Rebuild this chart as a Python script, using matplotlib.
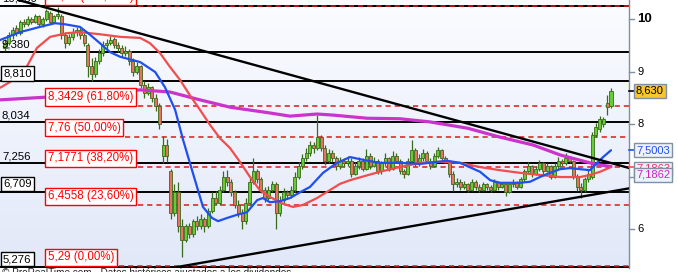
import numpy as np
import matplotlib
matplotlib.use("Agg")
import matplotlib.pyplot as plt
from matplotlib.colors import LinearSegmentedColormap
import matplotlib.transforms as mtransforms

plt.rcParams['font.family'] = ['Liberation Sans', 'DejaVu Sans']

# ---------------- data ----------------
opens = [9.45, 9.55, 9.70, 9.82, 9.74, 9.95, 9.90, 10.00, 9.95, 10.05,
         9.90, 10.00, 10.12, 9.95, 10.05, 10.05, 9.70, 9.55, 9.65, 9.75,
         9.80, 9.70, 9.50, 9.10, 8.95, 9.20, 9.35, 9.50, 9.55, 9.62,
         9.50, 9.45, 9.35, 9.40, 9.20, 9.00, 9.10, 8.75, 8.60, 8.70,
         8.50, 8.35, 7.40, 7.60, 7.10, 6.30, 6.70, 6.05, 5.80, 6.05,
         5.90, 6.15, 6.05, 6.20, 6.05, 6.35, 6.60, 6.50, 6.75, 7.00,
         6.90, 6.70, 6.45, 6.30, 6.15, 6.50, 6.90, 7.10, 6.95, 6.75,
         6.60, 6.75, 6.85, 6.30, 6.55, 6.70, 6.65, 6.75, 7.00, 7.20,
         7.35, 7.45, 7.60, 7.55, 7.75, 7.55, 7.30, 7.45, 7.35, 7.20,
         7.30, 7.25, 7.30, 7.05, 7.20, 7.30, 7.15, 7.40, 7.20, 7.30,
         7.10, 7.25, 7.35, 7.15, 7.40, 7.30, 7.10, 7.05, 7.30, 7.50,
         7.25, 7.35, 7.45, 7.30, 7.20, 7.40, 7.50, 7.35, 7.30, 7.05,
         6.85, 6.90, 6.80, 6.85, 6.75, 6.90, 6.80, 6.75, 6.85, 6.80,
         6.75, 6.90, 6.80, 6.85, 6.70, 6.85, 6.90, 6.80, 6.95, 7.10,
         7.20, 7.05, 7.15, 7.25, 7.10, 7.20, 7.00, 7.20, 7.30, 7.25,
         7.35, 7.30, 7.00, 6.80, 6.75, 6.95, 7.00, 7.80, 7.90, 8.00,
         8.40, 8.35]
highs = [9.62, 9.75, 9.85, 9.88, 9.98, 10.00, 10.05, 10.04, 10.10, 10.08,
         10.03, 10.20, 10.16, 10.08, 10.22, 10.10, 9.75, 9.72, 9.82, 9.85,
         9.83, 9.74, 9.55, 9.25, 9.28, 9.42, 9.58, 9.62, 9.68, 9.65,
         9.56, 9.50, 9.48, 9.42, 9.25, 9.18, 9.12, 8.82, 8.78, 8.72,
         8.58, 8.40, 7.78, 7.72, 7.15, 6.85, 6.90, 6.20, 6.10, 6.12,
         6.20, 6.25, 6.28, 6.22, 6.40, 6.70, 6.72, 6.82, 7.10, 7.12,
         6.95, 6.75, 6.55, 6.38, 6.60, 6.98, 7.35, 7.15, 7.00, 6.80,
         6.82, 6.92, 6.90, 6.62, 6.78, 6.75, 6.82, 7.08, 7.28, 7.42,
         7.55, 7.68, 7.65, 8.17, 7.80, 7.60, 7.52, 7.50, 7.40, 7.38,
         7.35, 7.40, 7.35, 7.28, 7.38, 7.35, 7.52, 7.45, 7.38, 7.34,
         7.30, 7.45, 7.38, 7.48, 7.44, 7.34, 7.15, 7.35, 7.70, 7.55,
         7.42, 7.52, 7.48, 7.35, 7.45, 7.56, 7.52, 7.40, 7.32, 7.10,
         6.98, 6.95, 6.92, 6.88, 6.95, 6.93, 6.85, 6.90, 6.88, 6.83,
         6.95, 6.92, 6.90, 6.88, 6.88, 6.95, 6.92, 7.00, 7.15, 7.28,
         7.22, 7.20, 7.32, 7.28, 7.25, 7.22, 7.25, 7.38, 7.34, 7.45,
         7.40, 7.32, 7.05, 6.88, 7.00, 7.12, 7.85, 8.02, 8.15, 8.14,
         8.55, 8.69]
lows = [9.40, 9.50, 9.62, 9.68, 9.70, 9.85, 9.86, 9.90, 9.92, 9.86,
        9.85, 9.96, 9.90, 9.92, 10.00, 9.62, 9.45, 9.50, 9.60, 9.68,
        9.62, 9.48, 8.90, 8.82, 8.90, 9.15, 9.30, 9.42, 9.50, 9.45,
        9.38, 9.28, 9.30, 9.12, 8.92, 8.95, 8.68, 8.50, 8.55, 8.42,
        8.25, 7.90, 7.25, 7.28, 6.20, 6.25, 5.95, 5.47, 5.75, 5.82,
        5.85, 5.98, 6.00, 5.95, 6.02, 6.30, 6.45, 6.45, 6.70, 6.82,
        6.62, 6.40, 6.22, 6.00, 6.10, 6.45, 6.85, 6.88, 6.68, 6.52,
        6.55, 6.70, 6.00, 6.25, 6.50, 6.58, 6.60, 6.70, 6.95, 7.15,
        7.30, 7.40, 7.45, 7.50, 7.48, 7.22, 7.25, 7.28, 7.12, 7.15,
        7.18, 7.20, 7.00, 7.02, 7.15, 7.10, 7.12, 7.15, 7.18, 7.05,
        7.05, 7.20, 7.10, 7.12, 7.25, 7.05, 6.98, 7.02, 7.25, 7.20,
        7.20, 7.30, 7.25, 7.15, 7.18, 7.35, 7.30, 7.25, 7.00, 6.72,
        6.80, 6.75, 6.76, 6.70, 6.72, 6.75, 6.70, 6.72, 6.75, 6.70,
        6.72, 6.75, 6.78, 6.62, 6.68, 6.80, 6.76, 6.78, 6.90, 7.05,
        7.00, 7.02, 7.10, 7.05, 7.08, 6.95, 6.98, 7.15, 7.20, 7.22,
        7.25, 6.95, 6.72, 6.60, 6.70, 6.90, 6.95, 7.75, 7.85, 7.94,
        8.17, 8.30]
closes = [9.55, 9.70, 9.80, 9.74, 9.95, 9.90, 10.00, 9.95, 10.05, 9.90,
          10.00, 10.15, 9.95, 10.05, 10.10, 9.70, 9.55, 9.65, 9.75, 9.80,
          9.70, 9.55, 9.10, 8.95, 9.20, 9.35, 9.50, 9.55, 9.60, 9.50,
          9.45, 9.35, 9.40, 9.20, 9.00, 9.10, 8.75, 8.60, 8.70, 8.50,
          8.35, 8.00, 7.60, 7.40, 6.30, 6.70, 6.05, 5.80, 6.05, 5.90,
          6.15, 6.05, 6.20, 6.05, 6.35, 6.60, 6.50, 6.75, 7.00, 6.90,
          6.70, 6.45, 6.30, 6.15, 6.50, 6.90, 7.10, 6.95, 6.75, 6.60,
          6.75, 6.85, 6.30, 6.55, 6.70, 6.65, 6.75, 7.00, 7.20, 7.35,
          7.45, 7.60, 7.55, 7.75, 7.55, 7.30, 7.45, 7.35, 7.20, 7.30,
          7.25, 7.30, 7.05, 7.20, 7.30, 7.15, 7.40, 7.20, 7.30, 7.10,
          7.25, 7.35, 7.15, 7.40, 7.30, 7.10, 7.05, 7.30, 7.50, 7.25,
          7.35, 7.45, 7.30, 7.20, 7.40, 7.50, 7.35, 7.30, 7.05, 6.85,
          6.90, 6.80, 6.85, 6.75, 6.90, 6.80, 6.75, 6.85, 6.80, 6.75,
          6.90, 6.80, 6.85, 6.70, 6.85, 6.90, 6.80, 6.95, 7.10, 7.20,
          7.05, 7.15, 7.25, 7.10, 7.20, 7.00, 7.20, 7.30, 7.25, 7.35,
          7.30, 7.00, 6.80, 6.75, 6.95, 7.05, 7.80, 7.95, 8.10, 8.10,
          8.32, 8.63]

# moving averages (bar index, value)
blue_x = [-1.3, 4.0, 9.3, 13.3, 15.9, 19.9, 22.6, 25.2, 27.9, 30.6, 35.9, 39.9, 42.5,
          45.2, 47.3, 49.9, 52.6, 55.0, 56.6, 59.0, 61.6, 64.3, 67.0, 68.5, 70.4,
          73.1, 75.7, 78.4, 81.0, 84.5, 88.2, 91.7, 95.6, 99.6, 104.9, 110.3, 117.4,
          120.9, 126.2, 128.9, 131.5, 136.8, 139.5, 142.1, 144.8, 147.5, 150.1,
          152.8, 155.4, 157.3, 158.9, 161.0]
blue_v = [9.60, 9.75, 9.85, 9.92, 9.90, 9.85, 9.70, 9.54, 9.37, 9.28, 9.18, 8.99, 8.70,
          8.27, 7.70, 7.07, 6.42, 6.21, 6.15, 6.21, 6.27, 6.32, 6.55, 6.59, 6.51,
          6.53, 6.59, 6.70, 6.80, 7.07, 7.26, 7.37, 7.31, 7.26, 7.26, 7.24, 7.30,
          7.26, 7.09, 6.93, 6.88, 6.88, 6.90, 6.99, 7.07, 7.14, 7.16,
          7.14, 7.12, 7.26, 7.37, 7.50]
red_x = [-1.3, 1.3, 5.3, 8.5, 12.0, 16.5, 19.9, 25.2, 30.6, 35.9, 38.5, 41.2, 43.8,
         46.5, 49.1, 51.8, 54.5, 57.1, 59.8, 62.4, 65.1, 67.7, 70.4, 73.9, 76.5,
         79.2, 82.9, 86.3, 89.0, 91.7, 95.6, 99.6, 104.9, 110.3, 115.6, 120.9,
         126.2, 131.5, 136.8, 142.1, 147.5, 152.8, 155.4, 158.1, 161.0]
red_v = [8.69, 8.80, 9.03, 9.45, 9.66, 9.73, 9.75, 9.71, 9.66, 9.64, 9.54, 9.35, 9.09,
         8.84, 8.55, 8.27, 7.98, 7.73, 7.54, 7.28, 6.99, 6.74, 6.61, 6.48, 6.42,
         6.46, 6.59, 6.74, 6.86, 6.93, 7.01, 7.09, 7.18, 7.26, 7.28, 7.26,
         7.18, 7.12, 7.07, 7.03, 6.99, 6.99, 7.03, 7.09, 7.18]
mag_x = [-1.3, 10.6, 25.2, 35.9, 43.8, 51.8, 59.8, 70.4, 75.7, 82.9, 87.1, 96.2,
         104.9, 112.9, 122.9, 131.5, 140.3, 147.5, 155.4, 158.1, 161.0]
mag_v = [8.46, 8.51, 8.59, 8.65, 8.61, 8.46, 8.32, 8.21, 8.15, 8.19, 8.17, 8.11,
         8.10, 8.04, 7.92, 7.75, 7.60, 7.41, 7.26, 7.22, 7.19]

level_values = [10.25, 9.38, 8.81, 8.034, 7.256, 6.709, 5.276]
level_labels = ["10,250", "9,380", "8,810", "8,034", "7,256", "6,709", "5,276"]
level_boxed = [False, False, True, False, False, True, True]

fib_values = [10.25, 8.3429, 7.76, 7.1771, 6.4558, 5.29]
fib_labels = ["10,25 (100,00%)", "8,3429 (61,80%)", "7,76 (50,00%)",
              "7,1771 (38,20%)", "6,4558 (23,60%)", "5,29 (0,00%)"]

trend_down = [(51.8, 9.41), (158.1, 7.314)]
trend_up = [(41.2, 5.219), (158.1, 6.678)]

axis_ticks = [6, 7, 8, 9, 10]
last_price = 8.63
last_label = "8,630"
blue_last, blue_label = 7.5003, "7,5003"
red_last, red_label = 7.1863, "7,1863"
mag_last, mag_label = 7.1862, "7,1862"
footer = "© ProRealTime.com - Datos históricos ajustados a los dividendos"

# ---------------- figure ----------------
W, H = 678, 272
fig = plt.figure(figsize=(W / 100, H / 100), dpi=100)
fig.patch.set_facecolor('white')
ax = fig.add_axes([0, 4 / H, 629 / W, 268 / H])

xmin, xmax = -5 / 3.764, 624 / 3.764
ymax = 10.362
ymin = ymax - 268 / 52.5
ax.set_xlim(xmin, xmax)
ax.set_ylim(ymin, ymax)

cmap = LinearSegmentedColormap.from_list('bg', ['#fbfcff', '#e1e8f8'])
ax.imshow(np.linspace(0, 1, 256).reshape(-1, 1), cmap=cmap, aspect='auto',
          extent=[xmin, xmax, ymin, ymax], origin='upper', zorder=0)

for s in ['top', 'left', 'bottom']:
    ax.spines[s].set_visible(False)
ax.spines['right'].set_color('#8090a0')
ax.spines['right'].set_linewidth(1.0)
ax.set_xticks([])
ax.set_yticks([])

# horizontal levels
for v in level_values:
    ax.axhline(v, color='black', lw=1.4, zorder=2)

# candles
x = np.arange(len(closes))
o = np.array(opens); c = np.array(closes)
h = np.array(highs); l = np.array(lows)
up = c >= o
edge = '#3a6a1c'
ax.vlines(x, l, h, color=edge, lw=0.9, zorder=3)
ax.bar(x[up], (c - o)[up], bottom=o[up], width=0.8, color='#66cc33',
       edgecolor=edge, linewidth=0.6, zorder=3.1)
ax.bar(x[~up], (o - c)[~up], bottom=c[~up], width=0.8, color='#e8735e',
       edgecolor=edge, linewidth=0.6, zorder=3.1)

# moving averages
ax.plot(mag_x, mag_v, color='#cc33cc', lw=2.3, zorder=4, solid_capstyle='round')
ax.plot(red_x, red_v, color='#f24d4d', lw=1.6, zorder=4.1, solid_capstyle='round')
ax.plot(blue_x, blue_v, color='#1f4fee', lw=1.6, zorder=4.2, solid_capstyle='round')

# trend lines
ax.axline(trend_down[0], trend_down[1], color='black', lw=1.7, zorder=5)
ax.axline(trend_up[0], trend_up[1], color='black', lw=1.7, zorder=5)

trans_y = mtransforms.blended_transform_factory(ax.transAxes, ax.transData)

# left black labels
for v, lab, boxed in zip(level_values, level_labels, level_boxed):
    if boxed:
        ax.annotate(lab, xy=(0, v), xycoords=trans_y, xytext=(3, 3),
                    textcoords='offset pixels', ha='left', va='bottom',
                    fontsize=8.2, color='black', zorder=7,
                    bbox=dict(boxstyle='square,pad=0.2', fc='white', ec='black', lw=1.0))
    else:
        ax.annotate(lab, xy=(0, v), xycoords=trans_y, xytext=(2, 2),
                    textcoords='offset pixels', ha='left', va='bottom',
                    fontsize=8.2, color='black', zorder=7)

# fibonacci labels
fib_texts = []
for v, lab in zip(fib_values, fib_labels):
    t = ax.annotate(lab, xy=(0, v), xycoords=trans_y, xytext=(48, 3),
                    textcoords='offset pixels', ha='left', va='bottom',
                    fontsize=8.3, color='#ff0000', zorder=7,
                    bbox=dict(boxstyle='square,pad=0.22', fc='white', ec='#ff0000', lw=1.0))
    fib_texts.append(t)

# right axis tick labels and tick marks
for t in axis_ticks:
    ax.plot([1.0, 1.0 + 5 / 629], [t, t], transform=trans_y, color='#8090a0',
            lw=1.0, clip_on=False, zorder=6)
    ax.annotate(str(t), xy=(1, t), xycoords=trans_y, xytext=(8, 0),
                textcoords='offset pixels', ha='left', va='center',
                fontsize=9.5 if t == 10 else 8, fontweight='bold' if t == 10 else 'normal',
                color='black', zorder=6, annotation_clip=False)

for v, col in [(last_price, 'black'), (blue_last, '#1f4fee'), (red_last, '#f24d4d')]:
    ax.plot([1.0, 1.0 + 5 / 629], [v, v], transform=trans_y, color=col,
            lw=1.2, clip_on=False, zorder=6.5)

def right_box(val, text, fc, tc, dy=0, z=8):
    ax.annotate(text, xy=(1, val), xycoords=trans_y, xytext=(7, dy),
                textcoords='offset pixels', ha='left', va='center',
                fontsize=8, color=tc, zorder=z, annotation_clip=False,
                bbox=dict(boxstyle='square,pad=0.2', fc=fc, ec='#8090a0', lw=1.0))

right_box(last_price, last_label, '#f7c62f', 'black')
right_box(blue_last, blue_label, '#eef2fc', '#1f4fee')
right_box(red_last, red_label, '#eef2fc', '#ee3366', dy=-2, z=8)
right_box(mag_last, mag_label, '#eef2fc', '#cc22cc', dy=-8, z=9)

fig.text(2 / W, 1 - 268.5 / H, footer, ha='left', va='top', fontsize=7.2, color='#222222')

# dashed fibonacci lines start right of the label boxes
fig.canvas.draw()
renderer = fig.canvas.get_renderer()
inv = ax.transData.inverted()
for t, v in zip(fib_texts, fib_values):
    bb = t.get_bbox_patch().get_window_extent(renderer)
    x0 = inv.transform((bb.x1 + 2, 0))[0]
    ax.plot([x0, xmax], [v, v], color='#e01818', lw=1.1, dashes=(3.4, 2.6), zorder=2.5)

fig.savefig('out.png', dpi=100, facecolor='white')
